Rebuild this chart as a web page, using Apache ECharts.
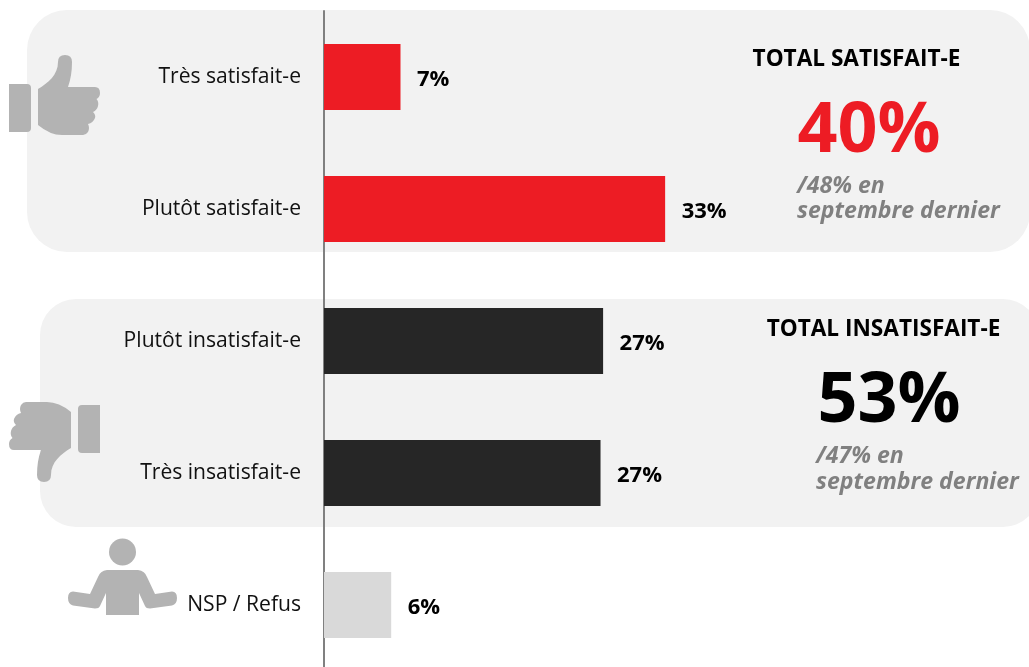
<!DOCTYPE html>
<html><head><meta charset="utf-8">
<style>html,body{margin:0;padding:0;background:#fff}#c{width:1029px;height:667px}</style>
<script src="https://cdn.jsdelivr.net/npm/echarts@6/dist/echarts.min.js"></script>
</head><body><div id="c"></div>
<script>
const categories = ['Très satisfait-e','Plutôt satisfait-e','Plutôt insatisfait-e','Très insatisfait-e','NSP / Refus'];
const barLengths = [7.4, 33, 27, 26.75, 6.5];
const valueLabels = ['7%','33%','27%','27%','6%'];
const barColors = ['#ED1C24','#ED1C24','#262626','#262626','#D9D9D9'];
const FONT = '"Open Sans", sans-serif';
const THUMB = 'M38 89 C48 83 58 75 58 62 Q58 55 65 55 Q72 55 72 62 Q72 76 68 87 L95 87 Q100 87 100 93 Q100 97 96.5 99 Q99 102 98 106 Q97 110 93 112 Q96 115 95 118 Q93 123 88 124 Q90 128 88 132 Q86 135 83 135 L62 135 Q50 135 38 125 Z';
const CUFF = 'M9 84 L27 84 Q31 84 31 88 L31 128 Q31 132 27 132 L9 132 Z';
const PERSON = 'M107 570 L138 570 Q145 571 147 577 L155 594 L172 591.5 Q177 591.5 177 598 Q177 604 172 605.5 L150 608.5 Q146 608.5 145 606 L139 593 L139 615 L106 615 L106 593 L100 606 Q99 608.5 95 608.5 L73 605.5 Q68 604 68 598 Q68 591.5 73 591.5 L90 594 L98 577 Q100 571 107 570 Z';
const ICON = '#B3B3B3';
const txt = (x,y,t,size,fill,o={}) => ({type:'text',z:3,x,y,style:Object.assign({text:t,fontFamily:FONT,fontSize:size,fontWeight:'bold',fill,textAlign:'left',textVerticalAlign:'middle'},o)});
const chart = echarts.init(document.getElementById('c'),null,{renderer:'canvas'});
chart.setOption({
  animation:false,
  backgroundColor:'#fff',
  grid:{left:324,right:0,top:11,height:660,containLabel:false,outerBoundsMode:'none'},
  xAxis:{type:'value',min:0,max:68.2,show:false},
  yAxis:{type:'category',inverse:true,data:categories,
    axisLine:{show:true,lineStyle:{color:'#808080',width:2}},
    axisTick:{show:false},
    axisLabel:{margin:23,fontFamily:FONT,fontSize:21.1,color:'#111',align:'right',padding:[3,0,0,0]}},
  series:[
   {type:'bar',barWidth:66,z:2,
    data:barLengths.map((v,i)=>({value:v,itemStyle:{color:barColors[i]},
      label:{show:true,position:'right',distance:16.5,offset:[0,2.5],formatter:valueLabels[i],fontFamily:FONT,fontWeight:'bold',fontSize:22,color:'#000'}}))},
   {type:'custom',coordinateSystem:'none',silent:true,z:1,data:[0],
    renderItem:()=>({type:'group',children:[
      {type:'path',shape:{pathData:THUMB+CUFF},style:{fill:ICON}},
      {type:'path',x:109,y:537,scaleX:-1,scaleY:-1,shape:{pathData:THUMB+CUFF},style:{fill:ICON}},
      {type:'circle',shape:{cx:122.5,cy:552,r:13.5},style:{fill:ICON}},
      {type:'path',shape:{pathData:PERSON},style:{fill:ICON}}
    ]})}
  ],
  graphic:[
    {type:'rect',z:0,shape:{x:27,y:10,width:1003,height:242,r:[40,40,40,40]},style:{fill:'#F2F2F2'}},
    {type:'rect',z:0,shape:{x:40,y:299,width:999,height:228,r:[36,36,36,36]},style:{fill:'#F2F2F2'}},
    txt(856.5,60,'TOTAL SATISFAIT-E',22.6,'#000',{textAlign:'center'}),
    txt(869,132,'40%',70,'#ED1C24',{textAlign:'center'}),
    txt(797,186,'/48% en',23.1,'#808080',{fontStyle:'italic'}),
    txt(797,211,'septembre dernier',23.1,'#808080',{fontStyle:'italic'}),
    txt(883.5,330,'TOTAL INSATISFAIT-E',22.6,'#000',{textAlign:'center'}),
    txt(889,402,'53%',70,'#000',{textAlign:'center'}),
    txt(816,456,'/47% en',23.1,'#808080',{fontStyle:'italic'}),
    txt(816,482,'septembre dernier',23.1,'#808080',{fontStyle:'italic'})
  ]
});
</script></body></html>
